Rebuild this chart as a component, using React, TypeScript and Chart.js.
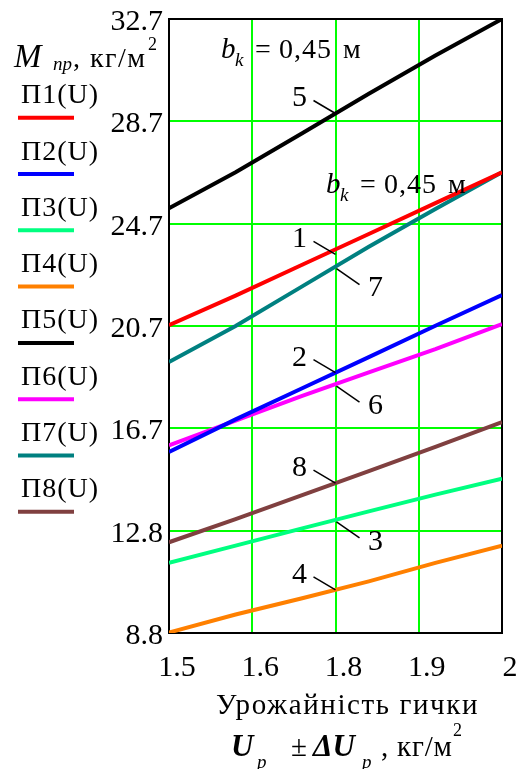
import React, { useEffect, useRef } from 'react';
import { Chart, registerables } from 'chart.js';

Chart.register(...registerables);

// Yield of tops, kg/m² (x values of every curve)
const uValues = [1.5, 1.6, 1.7, 1.8, 1.9, 2.0];

// Reduced mass M_пр, kg/m², for each curve П1..П8
const p1 = [20.75, 21.9, 23.1, 24.3, 25.5, 26.7];
const p2 = [15.82, 17.09, 18.3, 19.51, 20.73, 21.92];
const p3 = [11.51, 12.18, 12.85, 13.51, 14.16, 14.78];
const p4 = [8.8, 9.5, 10.13, 10.79, 11.51, 12.18];
const p5 = [25.3, 26.7, 28.22, 29.75, 31.24, 32.66];
const p6 = [16.08, 17.04, 18.0, 18.92, 19.82, 20.79];
const p7 = [19.32, 20.72, 22.26, 23.8, 25.27, 26.7];
const p8 = [12.31, 13.21, 14.14, 15.08, 16.02, 16.98];

const seriesNames = ['П1(U)', 'П2(U)', 'П3(U)', 'П4(U)', 'П5(U)', 'П6(U)', 'П7(U)', 'П8(U)'];
const seriesColors = ['#ff0000', '#0000ff', '#00ff80', '#ff8000', '#000000', '#ff00ff', '#008080', '#804040'];

// Axis grid and its (rounded) labels
const xTicks = [1.5, 1.625, 1.75, 1.875, 2];
const xTickLabels = ['1.5', '1.6', '1.8', '1.9', '2'];
const yMin = 8.78;
const yMax = 32.66;
const yTickLabels = ['8.8', '12.8', '16.7', '20.7', '24.7', '28.7', '32.7'];

// Curve numbers with leader lines, anchored on the curve at U = 1.75
const curveNumbers = [
  { text: '5', series: 4, side: 'left', dy: 0 },
  { text: '1', series: 0, side: 'left', dy: 5 },
  { text: '7', series: 6, side: 'right', dy: 0 },
  { text: '2', series: 1, side: 'left', dy: 0 },
  { text: '6', series: 5, side: 'right', dy: 0 },
  { text: '8', series: 7, side: 'left', dy: 0 },
  { text: '3', series: 2, side: 'right', dy: 0 },
  { text: '4', series: 3, side: 'left', dy: 0 },
];

const allSeries = [p1, p2, p3, p4, p5, p6, p7, p8];
const serif = '"Liberation Serif", "Times New Roman", serif';

function valueAt(series: number[], u: number): number {
  for (let i = 0; i < uValues.length - 1; i++) {
    if (u >= uValues[i] && u <= uValues[i + 1]) {
      const t = (u - uValues[i]) / (uValues[i + 1] - uValues[i]);
      return series[i] + t * (series[i + 1] - series[i]);
    }
  }
  return series[series.length - 1];
}

function setSpacing(ctx: any, px: number) {
  if ('letterSpacing' in ctx) ctx.letterSpacing = `${px}px`;
}

function drawBk(ctx: CanvasRenderingContext2D, x: number, base: number) {
  ctx.textAlign = 'left';
  ctx.textBaseline = 'alphabetic';
  setSpacing(ctx, 0);
  ctx.font = `italic 29px ${serif}`;
  ctx.fillText('b', x, base);
  ctx.font = `italic 19px ${serif}`;
  ctx.fillText('k', x + 14, base + 8);
  ctx.font = `28px ${serif}`;
  ctx.fillText('=', x + 34, base);
  setSpacing(ctx, 1);
  ctx.fillText('0,45', x + 58, base);
  setSpacing(ctx, 0);
  ctx.fillText('м', x + 122, base);
}

const framePlugin = {
  id: 'frame',
  beforeDatasetsDraw(chart: any) {
    const { ctx, chartArea: a } = chart;
    ctx.save();
    ctx.strokeStyle = '#000000';
    ctx.lineWidth = 2;
    ctx.strokeRect(a.left, a.top, a.right - a.left, a.bottom - a.top);
    ctx.restore();
  },
};

const textPlugin = {
  id: 'texts',
  afterDatasetsDraw(chart: any) {
    const { ctx, scales } = chart;
    const xs = scales.x;
    const ys = scales.y;
    ctx.save();
    ctx.fillStyle = '#000000';

    // Y axis title: M_пр, кг/м²
    ctx.textAlign = 'left';
    ctx.textBaseline = 'alphabetic';
    setSpacing(ctx, 0);
    ctx.font = `italic 33px ${serif}`;
    ctx.fillText('M', 14, 67);
    ctx.font = `italic 19px ${serif}`;
    ctx.fillText('пр', 53, 70);
    ctx.font = `28px ${serif}`;
    setSpacing(ctx, 1.5);
    ctx.fillText(', кг/м', 73, 67);
    setSpacing(ctx, 0);
    ctx.font = `18px ${serif}`;
    ctx.fillText('2', 148, 50);

    // Legend
    seriesNames.forEach((name, i) => {
      const lineY = 117.7 + 56.3 * i;
      ctx.font = `28px ${serif}`;
      ctx.fillStyle = '#000000';
      setSpacing(ctx, 1);
      ctx.fillText(name, 21, lineY - 14.5);
      setSpacing(ctx, 0);
      ctx.strokeStyle = seriesColors[i];
      ctx.lineWidth = 4;
      ctx.beginPath();
      ctx.moveTo(18, lineY);
      ctx.lineTo(74, lineY);
      ctx.stroke();
    });

    // b_k = 0,45 м notes
    drawBk(ctx, 221, 57.5);
    drawBk(ctx, 326, 193);

    // Curve numbers
    const u0 = 1.75;
    const ax = xs.getPixelForValue(u0);
    curveNumbers.forEach((c) => {
      const ay = ys.getPixelForValue(valueAt(allSeries[c.series], u0)) + c.dy;
      ctx.strokeStyle = '#000000';
      ctx.lineWidth = 1.5;
      ctx.beginPath();
      ctx.font = `30px ${serif}`;
      ctx.textAlign = 'center';
      ctx.textBaseline = 'middle';
      if (c.side === 'left') {
        ctx.moveTo(ax - 22, ay - 13);
        ctx.lineTo(ax, ay);
        ctx.stroke();
        ctx.fillText(c.text, ax - 36, ay - 15);
      } else {
        ctx.moveTo(ax + 1, ay + 2);
        ctx.lineTo(ax + 24, ay + 18);
        ctx.stroke();
        ctx.fillText(c.text, ax + 40, ay + 22);
      }
    });

    // X axis title
    ctx.textBaseline = 'alphabetic';
    ctx.textAlign = 'left';
    ctx.font = `29px ${serif}`;
    setSpacing(ctx, 1.6);
    ctx.fillText('Урожайність гички', 216, 714);
    setSpacing(ctx, 0);

    ctx.font = `bold italic 31px ${serif}`;
    ctx.fillText('U', 231, 756);
    ctx.font = `italic 19px ${serif}`;
    ctx.fillText('p', 257, 768);
    ctx.font = `29px ${serif}`;
    ctx.fillText('±', 291, 756);
    ctx.font = `bold italic 31px ${serif}`;
    ctx.fillText('ΔU', 313, 756);
    ctx.font = `italic 19px ${serif}`;
    ctx.fillText('p', 362, 768);
    ctx.font = `29px ${serif}`;
    setSpacing(ctx, 0.8);
    ctx.fillText(', кг/м', 381, 756);
    setSpacing(ctx, 0);
    ctx.font = `18px ${serif}`;
    ctx.fillText('2', 453, 736);

    ctx.restore();
  },
};

export default function App() {
  const canvasRef = useRef<HTMLCanvasElement | null>(null);

  useEffect(() => {
    const canvas = canvasRef.current;
    if (!canvas) return;

    const datasets = allSeries.map((series, i) => ({
      label: seriesNames[i],
      data: uValues.map((u, j) => ({ x: u, y: series[j] })),
      borderColor: seriesColors[i],
      backgroundColor: seriesColors[i],
      borderWidth: 4,
      pointRadius: 0,
      tension: 0,
      fill: false,
    }));

    const yStep = (yMax - yMin) / (yTickLabels.length - 1);

    const chart = new Chart(canvas, {
      type: 'line',
      data: { datasets },
      options: {
        animation: false,
        responsive: true,
        maintainAspectRatio: false,
        layout: { padding: { left: 0, top: 19, right: 16, bottom: 0 } },
        plugins: {
          legend: { display: false },
          tooltip: { enabled: false },
        },
        scales: {
          x: {
            type: 'linear',
            min: 1.5,
            max: 2,
            afterBuildTicks: (scale: any) => {
              scale.ticks = xTicks.map((v) => ({ value: v }));
            },
            afterFit: (scale: any) => {
              scale.height = 136;
              scale.paddingLeft = 0;
              scale.paddingRight = 0;
            },
            ticks: {
              autoSkip: false,
              maxRotation: 0,
              padding: 17,
              labelOffset: 8,
              color: '#000000',
              font: { family: serif, size: 30 },
              callback: (_v: any, i: number) => xTickLabels[i],
            },
            grid: { color: '#00ff00', lineWidth: 2, drawTicks: false },
            border: { display: false },
          },
          y: {
            type: 'linear',
            min: yMin,
            max: yMax,
            afterBuildTicks: (scale: any) => {
              scale.ticks = yTickLabels.map((_, i) => ({ value: yMin + i * yStep }));
            },
            afterFit: (scale: any) => {
              scale.width = 169;
              scale.paddingTop = 0;
              scale.paddingBottom = 0;
            },
            ticks: {
              autoSkip: false,
              padding: 6,
              labelOffset: 3,
              color: '#000000',
              font: { family: serif, size: 30 },
              callback: (_v: any, i: number) => yTickLabels[i],
            },
            grid: { color: '#00ff00', lineWidth: 2, drawTicks: false },
            border: { display: false },
          },
        },
      },
      plugins: [framePlugin, textPlugin],
    });

    return () => chart.destroy();
  }, []);

  return (
    <div style={{ position: 'fixed', left: 0, top: 0, width: 518, height: 769, background: '#ffffff' }}>
      <canvas ref={canvasRef} style={{ display: 'block' }} />
    </div>
  );
}
